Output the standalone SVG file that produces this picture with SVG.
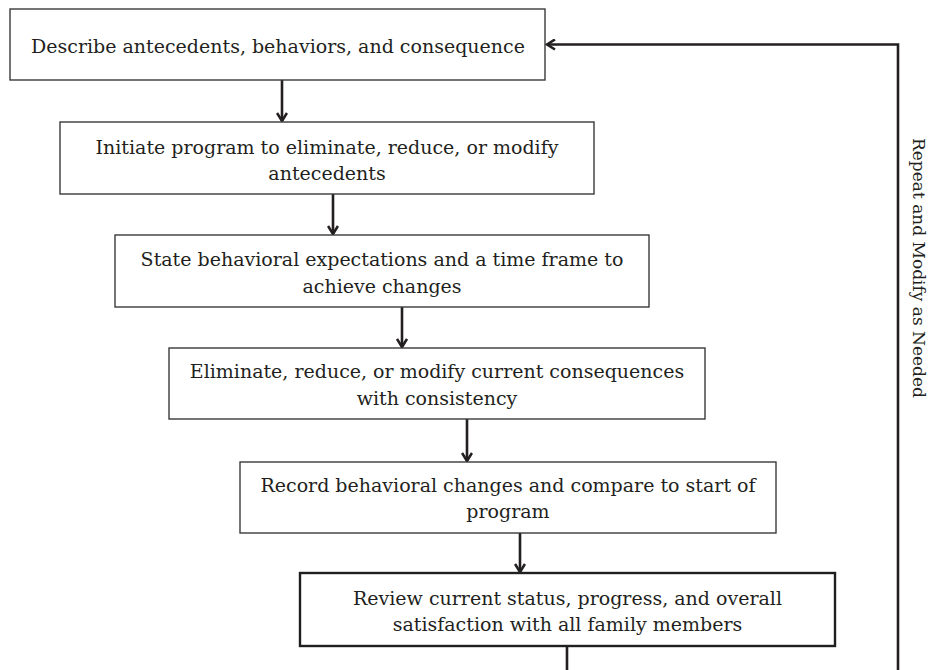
<svg xmlns="http://www.w3.org/2000/svg" width="933" height="670" viewBox="0 0 933 670">
<style>
.box{fill:#fff;stroke:#3a3a3a;stroke-width:1.4}
.box6{fill:#fff;stroke:#1f1f1f;stroke-width:2.4}
.t{font-family:"DejaVu Serif","Liberation Serif",serif;font-size:19px;fill:#231f20;text-anchor:middle}
.side{font-family:"DejaVu Serif","Liberation Serif",serif;font-size:17px;fill:#231f20}
.c{fill:none;stroke:#231f20;stroke-width:2.6}
</style>
<defs>
<marker id="ah" viewBox="0 0 12 12" refX="10" refY="6" markerWidth="12" markerHeight="12" markerUnits="userSpaceOnUse" orient="auto">
<path d="M2,1 L10,6 L2,11" fill="none" stroke="#231f20" stroke-width="2.6"/>
</marker>
</defs>
<rect width="933" height="670" fill="#fff"/>
<g id="connectors">
<path class="c" d="M282,80 V121" marker-end="url(#ah)"/>
<path class="c" d="M333,194 V234" marker-end="url(#ah)"/>
<path class="c" d="M402,307 V347" marker-end="url(#ah)"/>
<path class="c" d="M467,419 V461" marker-end="url(#ah)"/>
<path class="c" d="M520,533 V572" marker-end="url(#ah)"/>
<path class="c" d="M567,646 V690 H898 V44.5 H547" marker-end="url(#ah)"/>
</g>
<g id="n1">
<rect class="box" x="10" y="9" width="535" height="71"/>
<text class="t" x="278" y="53">Describe antecedents, behaviors, and consequence</text>
</g>
<g id="n2">
<rect class="box" x="60" y="122" width="534" height="72"/>
<text class="t" x="327" y="154">Initiate program to eliminate, reduce, or modify</text>
<text class="t" x="327" y="180">antecedents</text>
</g>
<g id="n3">
<rect class="box" x="115" y="235" width="534" height="72"/>
<text class="t" x="382" y="265.5">State behavioral expectations and a time frame to</text>
<text class="t" x="382" y="292.5">achieve changes</text>
</g>
<g id="n4">
<rect class="box" x="169" y="348" width="536" height="71"/>
<text class="t" x="437" y="378">Eliminate, reduce, or modify current consequences</text>
<text class="t" x="437" y="405">with consistency</text>
</g>
<g id="n5">
<rect class="box" x="240" y="462" width="536" height="71"/>
<text class="t" x="508" y="492">Record behavioral changes and compare to start of</text>
<text class="t" x="508" y="518">program</text>
</g>
<g id="n6">
<rect class="box6" x="300" y="573" width="535" height="73"/>
<text class="t" x="567.5" y="605">Review current status, progress, and overall</text>
<text class="t" x="567.5" y="631">satisfaction with all family members</text>
</g>
<g id="label">
<text class="side" transform="translate(913,138) rotate(90)">Repeat and Modify as Needed</text>
</g>
</svg>
